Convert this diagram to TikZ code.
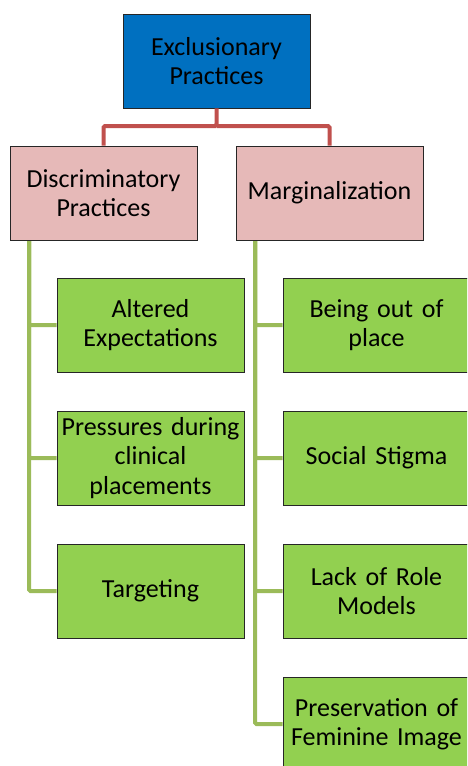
\documentclass[tikz,border=0pt]{standalone}
\usepackage{fontspec}
\setmainfont{Carlito}
\definecolor{topblue}{HTML}{0070C0}
\definecolor{pinkfill}{HTML}{E6B9B8}
\definecolor{greenfill}{HTML}{92D050}
\definecolor{redline}{HTML}{C0504D}
\definecolor{greenline}{HTML}{9BBB59}
\begin{document}
\begin{tikzpicture}[x=1pt,y=-1pt,
  box/.style={draw=black!85, line width=0.8pt, minimum width=187pt, minimum height=94pt,
    inner sep=0pt, text width=187pt, align=center,
    font=\fontsize{26}{29.5}\selectfont},
  topbox/.style={box, fill=topblue},
  midbox/.style={box, fill=pinkfill},
  leafbox/.style={box, fill=greenfill},
  redcon/.style={draw=redline, line width=4pt, rounded corners=1.5pt},
  greencon/.style={draw=greenline, line width=4pt, rounded corners=1.5pt}]
\clip (0,0) rectangle (467,766);
\useasboundingbox (0,0) rectangle (467,766);
\node[topbox] (top) at (216.5,61) {Exclusionary\\Practices};
\node[midbox] (disc) at (103.5,193) {Discriminatory\\Practices};
\node[midbox] (marg) at (329.5,193) {Marginalization};
\node[leafbox] (alt) at (150.5,325) {Altered\\Expectations};
\node[leafbox] (pres) at (150.5,458) {Pressures during\\clinical\\placements};
\node[leafbox] (targ) at (150.5,591) {Targeting};
\node[leafbox] (out) at (376.5,325) {Being out of\\place};
\node[leafbox] (stig) at (376.5,458) {Social Stigma};
\node[leafbox] (role) at (376.5,591) {Lack of Role\\Models};
\node[leafbox] (fem) at (376.5,724) {Preservation of\\Feminine Image};
\coordinate (lt) at (29,241);
\coordinate (rt) at (255,241);
\coordinate (jn) at (216.5,126);
\draw[redcon] (top.south) -- (jn) -| (disc.north);
\draw[redcon] (jn) -| (marg.north);
\draw[greencon] (lt) |- (alt.west);
\draw[greencon] (lt) |- (pres.west);
\draw[greencon] (lt) |- (targ.west);
\draw[greencon] (rt) |- (out.west);
\draw[greencon] (rt) |- (stig.west);
\draw[greencon] (rt) |- (role.west);
\draw[greencon] (rt) |- (fem.west);
\end{tikzpicture}
\end{document}
